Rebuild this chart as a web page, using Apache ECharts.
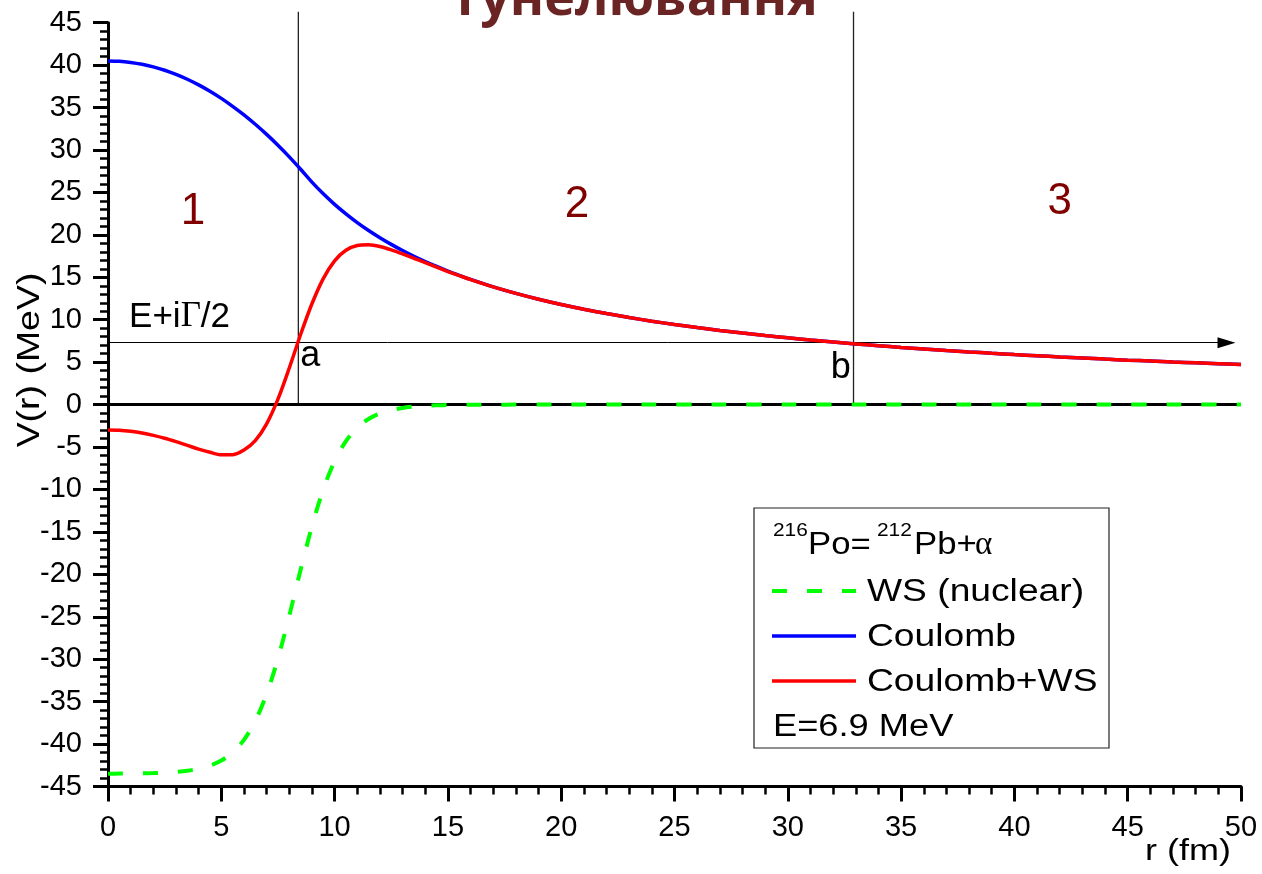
<!DOCTYPE html>
<html>
<head>
<meta charset="utf-8">
<title>Тунелювання</title>
<script src="https://cdn.jsdelivr.net/npm/echarts@6/dist/echarts.min.js"></script>
<style>
  html, body { margin: 0; padding: 0; background: #fff; }
  #chart { width: 1262px; height: 874px; }
</style>
</head>
<body>
<div id="chart"></div>
<script>
// Radial distance r (fm)
const r = [0, 0.5, 1, 1.5, 2, 2.5, 3, 3.5, 4, 4.5, 5, 5.5, 6, 6.5, 7, 7.5, 8, 8.5,
  9, 9.5, 10, 10.5, 11, 11.5, 12, 12.5, 13, 13.5, 14, 14.5, 15, 15.5, 16,
  17, 18, 19, 20, 21, 22, 23, 24, 25, 26, 27, 28, 29, 30, 31, 32, 33, 34,
  35, 36, 37, 38, 39, 40, 41, 42, 43, 44, 45, 46, 47, 48, 49, 50];

// Coulomb potential (MeV)
const coulomb = [40.50, 40.46, 40.32, 40.10, 39.79, 39.40, 38.91, 38.34, 37.67, 36.92,
  36.08, 35.15, 34.14, 33.03, 31.84, 30.56, 29.19, 27.73, 26.22, 24.84, 23.60, 22.48,
  21.45, 20.52, 19.67, 18.88, 18.15, 17.48, 16.86, 16.28, 15.73, 15.23, 14.75,
  13.88, 13.11, 12.42, 11.80, 11.24, 10.73, 10.26, 9.83, 9.44, 9.08, 8.74, 8.43, 8.14,
  7.87, 7.61, 7.38, 7.15, 6.94, 6.74, 6.56, 6.38, 6.21, 6.05, 5.90, 5.76, 5.62, 5.49,
  5.36, 5.24, 5.13, 5.02, 4.92, 4.82, 4.72];

// Woods-Saxon nuclear potential (MeV)
const woodsSaxon = [-43.49, -43.48, -43.47, -43.45, -43.42, -43.37, -43.28, -43.14, -42.91,
  -42.54, -41.94, -40.98, -39.50, -37.28, -34.11, -29.92, -24.88, -19.47, -14.34, -9.99,
  -6.66, -4.30, -2.71, -1.69, -1.04, -0.64, -0.39, -0.24, -0.14, -0.09, -0.05, -0.03, -0.02,
  -0.01, 0, 0, 0, 0, 0, 0, 0, 0, 0, 0, 0, 0, 0, 0, 0, 0, 0, 0, 0, 0, 0, 0, 0, 0, 0, 0,
  0, 0, 0, 0, 0, 0, 0];

// Total potential Coulomb + WS (MeV)
const total = [-2.99, -3.02, -3.15, -3.35, -3.63, -3.97, -4.37, -4.80, -5.24, -5.62,
  -5.92, -5.90, -5.36, -4.25, -2.27, 0.64, 4.31, 8.26, 11.88, 14.85, 16.94, 18.18,
  18.74, 18.83, 18.63, 18.24, 17.76, 17.24, 16.72, 16.19, 15.68, 15.20, 14.73,
  13.87, 13.11, 12.42, 11.80, 11.24, 10.73, 10.26, 9.83, 9.44, 9.08, 8.74, 8.43, 8.14,
  7.87, 7.61, 7.38, 7.15, 6.94, 6.74, 6.56, 6.38, 6.21, 6.05, 5.90, 5.76, 5.62, 5.49,
  5.36, 5.24, 5.13, 5.02, 4.92, 4.82, 4.72];

// Axis ranges: [min, max, interval]
const xRange = [0, 50, 5];
const yRange = [-45, 45, 5];

// Resonance level and classical turning points
const energyLevel = 7.3;
const arrowEnd = 49.36;
const turningPoints = [8.4, 32.9];
const markerTop = 46.3;

// Region numbers and other annotations [text, r, V]
const regionLabels = [['1', 3.75, 22.7], ['2', 20.7, 23.5], ['3', 42.0, 23.9]];
const pointLabels = [['a', 8.48, 5.7], ['b', 31.9, 4.3]];
const levelLabel = [0.93, 10.3];

const sans = 'Arial, "Liberation Sans", sans-serif';
const serif = '"Times New Roman", "Liberation Serif", serif';

const pairs = (ys) => r.map((x, i) => [x, ys[i]]);

const chart = echarts.init(document.getElementById('chart'), null, { renderer: 'canvas' });

function axisCommon(range, margin) {
  return {
    type: 'value',
    min: range[0], max: range[1], interval: range[2],
    axisLine: { show: true, onZero: false, lineStyle: { color: '#000', width: 3 } },
    axisTick: { show: true, inside: false, length: 15, lineStyle: { color: '#000', width: 3 } },
    minorTick: { show: true, splitNumber: 5, length: 8, lineStyle: { color: '#000', width: 2.5 } },
    splitLine: { show: false },
    minorSplitLine: { show: false },
    axisLabel: { fontFamily: sans, fontSize: 29, color: '#000', margin: margin }
  };
}

const verticalSeries = turningPoints.map((tp) => ({
  type: 'line',
  data: [[tp, 0], [tp, markerTop]],
  clip: false,
  symbol: 'none',
  silent: true,
  lineStyle: { color: '#222', width: 1.3 },
  z: 1
}));

chart.setOption({
  animation: false,
  backgroundColor: '#fff',
  grid: { left: 108, right: 21, top: 22.7, bottom: 87.5, containLabel: false, outerBoundsMode: 'none' },
  xAxis: axisCommon(xRange, 27),
  yAxis: axisCommon(yRange, 26),
  series: [
    {
      type: 'line',
      data: [[xRange[0], 0], [xRange[1], 0]],
      symbol: 'none',
      silent: true,
      lineStyle: { color: '#000', width: 3 },
      z: 2,
      markLine: {
        silent: true,
        animation: false,
        symbol: ['none', 'none'],
        label: { show: false },
        lineStyle: { color: '#000', width: 1, type: 'solid' },
        emphasis: { disabled: true },
        data: [[
          { coord: [xRange[0], energyLevel], symbol: 'none' },
          { coord: [arrowEnd, energyLevel], symbol: 'triangle', symbolSize: [11, 18] }
        ]]
      }
    },
    ...verticalSeries,
    {
      name: 'Coulomb',
      type: 'line',
      data: pairs(coulomb),
      smooth: 0.3,
      symbol: 'none',
      silent: true,
      lineStyle: { color: '#0000ff', width: 3.5 },
      z: 3
    },
    {
      name: 'WS (nuclear)',
      type: 'line',
      data: pairs(woodsSaxon),
      smooth: 0.3,
      symbol: 'none',
      silent: true,
      lineStyle: { color: '#00ff00', width: 4, type: [15, 20] },
      z: 4
    },
    {
      name: 'Coulomb+WS',
      type: 'line',
      data: pairs(total),
      smooth: 0.3,
      symbol: 'none',
      silent: true,
      lineStyle: { color: '#ff0000', width: 3.5 },
      z: 5
    }
  ]
});

const px = (x, y) => chart.convertToPixel({ gridIndex: 0 }, [x, y]);

function txt(text, x, y, size, opts) {
  opts = opts || {};
  return {
    type: 'text',
    x: x, y: y,
    scaleX: opts.scaleX || 1,
    rotation: opts.rotation || 0,
    z: 20,
    silent: true,
    style: {
      text: text,
      font: (opts.weight || 'normal') + ' ' + size + 'px ' + (opts.family || sans),
      fill: opts.color || '#000',
      textAlign: opts.align || 'left',
      textVerticalAlign: 'middle',
      rich: opts.rich
    }
  };
}

const graphics = [];

// Partially visible heading at the very top
graphics.push(txt('Тунелювання', 634, 0, 52, { align: 'center', weight: 'bold', family: '"Open Sans", "Noto Sans", sans-serif', color: '#6b2424' }));

// Region numbers
regionLabels.forEach(([t, x, y]) => {
  const p = px(x, y);
  graphics.push(txt(t, p[0], p[1], 44, { align: 'center', color: '#800000' }));
});

// Turning point letters
pointLabels.forEach(([t, x, y]) => {
  const p = px(x, y);
  graphics.push(txt(t, p[0], p[1], 36));
});

// Level label E+iΓ/2
{
  const p = px(levelLabel[0], levelLabel[1]);
  graphics.push(txt('{t|E+i}{g|Γ}{t|/2}', p[0], p[1], 35, {
    rich: {
      t: { fontFamily: sans, fontSize: 35, fill: '#000' },
      g: { fontFamily: serif, fontSize: 35, fill: '#000' }
    }
  }));
}

// Axis names
graphics.push(txt('V(r) (MeV)', 30, 360, 32, { align: 'center', rotation: Math.PI / 2, scaleX: 1.17 }));
graphics.push(txt('r (fm)', 1145, 852, 30, { scaleX: 1.2 }));

// Legend box
const lg = 1.2;
graphics.push({
  type: 'rect', z: 15, silent: true,
  shape: { x: 754, y: 508, width: 355, height: 240 },
  style: { fill: '#fff', stroke: '#222', lineWidth: 1.2 }
});
graphics.push(txt('216', 773, 531, 19, { scaleX: 1.1 }));
graphics.push(txt('Po=', 808, 545, 31, { scaleX: 1.12 }));
graphics.push(txt('212', 877, 531, 19, { scaleX: 1.1 }));
graphics.push(txt('Pb+', 914, 545, 31, { scaleX: 1.12 }));
graphics.push(txt('α', 975, 545, 33, { family: serif }));

const legendRows = [
  ['WS (nuclear)', '#00ff00', 591, 4, [15, 20]],
  ['Coulomb', '#0000ff', 636, 3.5, null],
  ['Coulomb+WS', '#ff0000', 681, 3.5, null]
];
legendRows.forEach(([label, color, y, w, dash]) => {
  graphics.push({
    type: 'line', z: 20, silent: true,
    shape: { x1: 772, y1: y, x2: 856, y2: y },
    style: { stroke: color, lineWidth: w, lineDash: dash || null }
  });
  graphics.push(txt(label, 867, y + 1, 31, { scaleX: lg }));
});
graphics.push(txt('E=6.9 MeV', 773, 727, 31, { scaleX: 1.17 }));

chart.setOption({ graphic: graphics });
</script>
</body>
</html>
